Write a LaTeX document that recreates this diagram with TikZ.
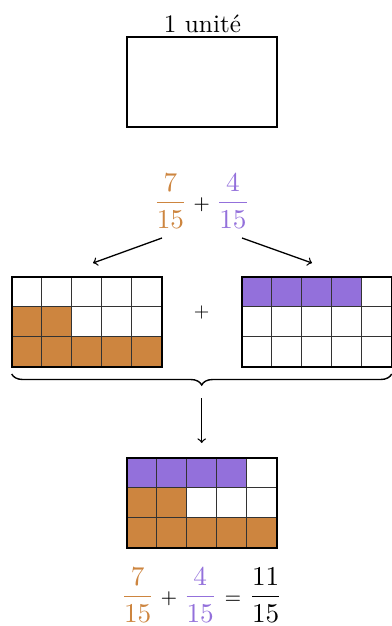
\documentclass[tikz,border=0pt]{standalone}
\usepackage{amsmath}
\usepackage{graphicx}
\usetikzlibrary{decorations.pathreplacing}
\definecolor{fracorange}{RGB}{205,133,63}
\definecolor{fracpurple}{RGB}{147,112,219}
\newcommand\cellgrid[2]{%
  \foreach \k in {1,2,3,4} \draw[cellline] ({#1+30*\k},#2) -- ++(0,90);
  \foreach \k in {1,2} \draw[cellline] (#1,{#2+30*\k}) -- ++(150,0);
  \draw[gridframe] (#1,#2) rectangle ++(150,90);}
\begin{document}
\begin{tikzpicture}[x=0.5pt,y=-0.5pt,
  cellline/.style={draw=black!80, line width=0.6pt},
  gridframe/.style={draw=black, line width=1pt},
  conn/.style={->, line width=0.65pt},
  fracnode/.style={scale=1.36, inner sep=0pt}]
\useasboundingbox (0,0) rectangle (391,626);
% unit rectangle
\draw[gridframe] (126.7,36.7) rectangle (276.7,126.7);
\node[anchor=base, scale=1.26, inner sep=0pt] (unitlabel) at (202.5,32.7) {1 unité};
% top sum
\node[fracnode] (sumtop) at (201.7,201) {$\displaystyle{\color{fracorange}\frac{7}{15}}\mathbin{\scriptstyle +}{\color{fracpurple}\frac{4}{15}}$};
\coordinate (aL1) at (162,238);
\coordinate (aL2) at (93,263);
\coordinate (aR1) at (242,238);
\coordinate (aR2) at (312,263);
\draw[conn] (aL1) -- (aL2);
\draw[conn] (aR1) -- (aR2);
% left grid
\fill[fracorange] (11.7,306.7) rectangle ++(60,30);
\fill[fracorange] (11.7,336.7) rectangle ++(150,30);
\cellgrid{11.7}{276.7}
% right grid
\fill[fracpurple] (241.7,276.7) rectangle ++(120,30);
\cellgrid{241.7}{276.7}
\node (plusmid) at (201.7,312) {$+$};
% brace
\coordinate (brL) at (11.7,374);
\coordinate (brR) at (391.7,374);
\draw[decorate, decoration={brace, mirror, amplitude=5.5pt}, line width=0.7pt] (brL) -- (brR);
\coordinate (dA1) at (201.7,398);
\coordinate (dA2) at (201.7,443);
\draw[conn] (dA1) -- (dA2);
% result grid
\fill[fracpurple] (126.7,457.7) rectangle ++(120,30);
\fill[fracorange] (126.7,487.7) rectangle ++(60,30);
\fill[fracorange] (126.7,517.7) rectangle ++(150,30);
\cellgrid{126.7}{457.7}
% bottom equation
\node[fracnode] (sumbot) at (201.7,595) {$\displaystyle{\color{fracorange}\frac{7}{15}}\mathbin{\scriptstyle +}{\color{fracpurple}\frac{4}{15}}\mathrel{\scriptstyle =}\frac{11}{15}$};
\end{tikzpicture}
\end{document}
